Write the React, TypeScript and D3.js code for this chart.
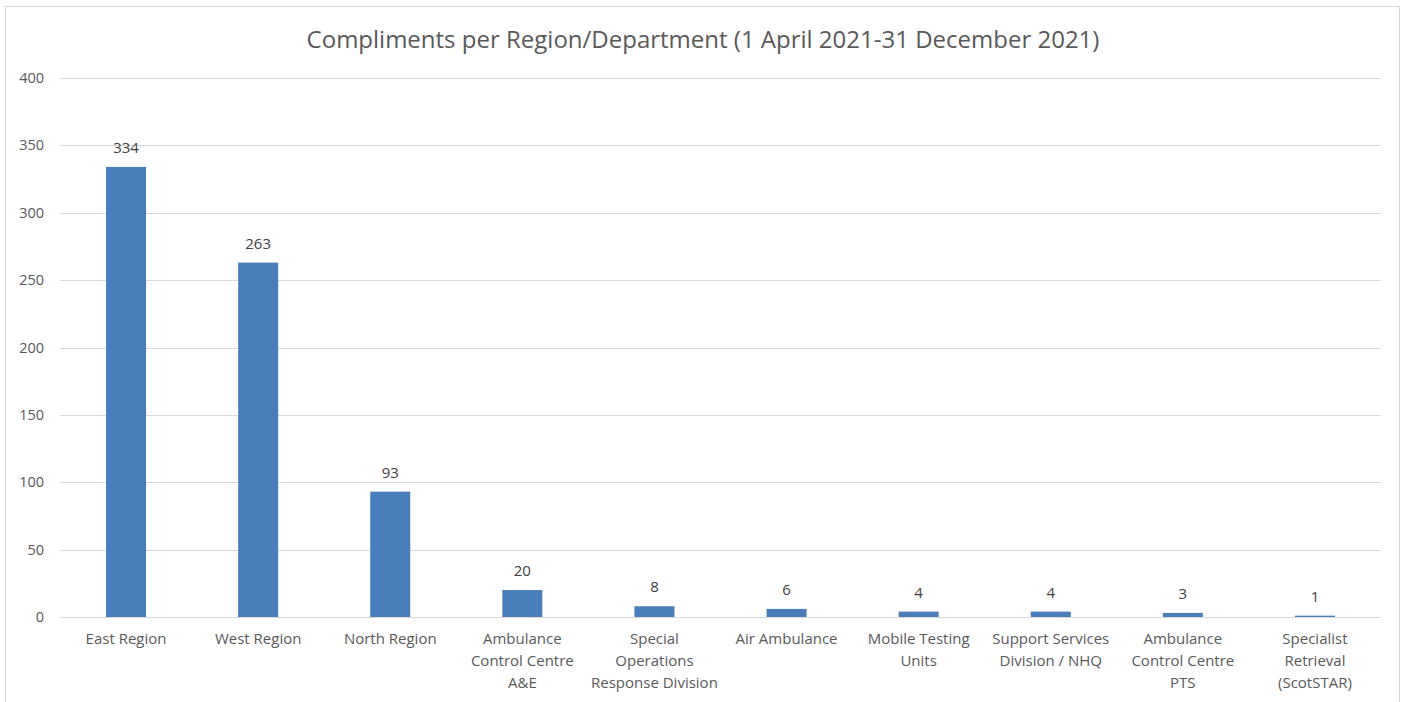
import React from "react";
import * as d3 from "d3";

const categories: string[][] = [
  ["East Region"],
  ["West Region"],
  ["North Region"],
  ["Ambulance", "Control Centre", "A&E"],
  ["Special", "Operations", "Response Division"],
  ["Air Ambulance"],
  ["Mobile Testing", "Units"],
  ["Support Services", "Division / NHQ"],
  ["Ambulance", "Control Centre", "PTS"],
  ["Specialist", "Retrieval", "(ScotSTAR)"],
];
const values: number[] = [334, 263, 93, 20, 8, 6, 4, 4, 3, 1];
const yTicks: number[] = [0, 50, 100, 150, 200, 250, 300, 350, 400];
const title = "Compliments per Region/Department (1 April 2021-31 December 2021)";

const W = 1405;
const H = 702;
const left = 60;
const right = 1381;
const top = 78;
const bottom = 617;

export default function App() {
  const keys = categories.map((c, i) => String(i));
  const x = d3.scaleBand<string>().domain(keys).range([left, right]).paddingInner(0.697).paddingOuter(0.3485);
  const y = d3.scaleLinear().domain([0, 400]).range([bottom, top]);
  const font = "'Open Sans', 'Noto Sans', sans-serif";
  return (
    <div style={{ position: "absolute", left: 0, top: 0 }}>
      <svg width={W} height={H} style={{ display: "block" }}>
        <rect x={0} y={0} width={W} height={H} fill="#ffffff" />
        <rect x={5.5} y={6.5} width={1394} height={H} fill="none" stroke="#d9d9d9" strokeWidth={1} />
        <text x={703} y={48} textAnchor="middle" fontFamily={font} fontSize={24} fill="#595959">
          {title}
        </text>
        {yTicks.map((t) => (
          <g key={t}>
            <line x1={left} x2={right} y1={Math.round(y(t)) + 0.5} y2={Math.round(y(t)) + 0.5} stroke="#d9d9d9" strokeWidth={1} />
            <text x={44} y={y(t) + 5} textAnchor="end" fontFamily={font} fontSize={14.5} fill="#595959">
              {t}
            </text>
          </g>
        ))}
        {values.map((v, i) => {
          const bx = x(String(i))!;
          const bw = x.bandwidth();
          return (
            <g key={i}>
              <rect x={bx} y={y(v)} width={bw} height={y(0) - y(v)} fill="#4a7ebb" />
              <text x={bx + bw / 2} y={y(v) - 14} textAnchor="middle" fontFamily={font} fontSize={15} fill="#404040">
                {v}
              </text>
            </g>
          );
        })}
        {categories.map((lines, i) => {
          const cx = x(String(i))! + x.bandwidth() / 2;
          return (
            <text key={i} textAnchor="middle" fontFamily={font} fontSize={15} fill="#595959">
              {lines.map((l, j) => (
                <tspan key={j} x={cx} y={644 + j * 22}>
                  {l}
                </tspan>
              ))}
            </text>
          );
        })}
      </svg>
    </div>
  );
}
